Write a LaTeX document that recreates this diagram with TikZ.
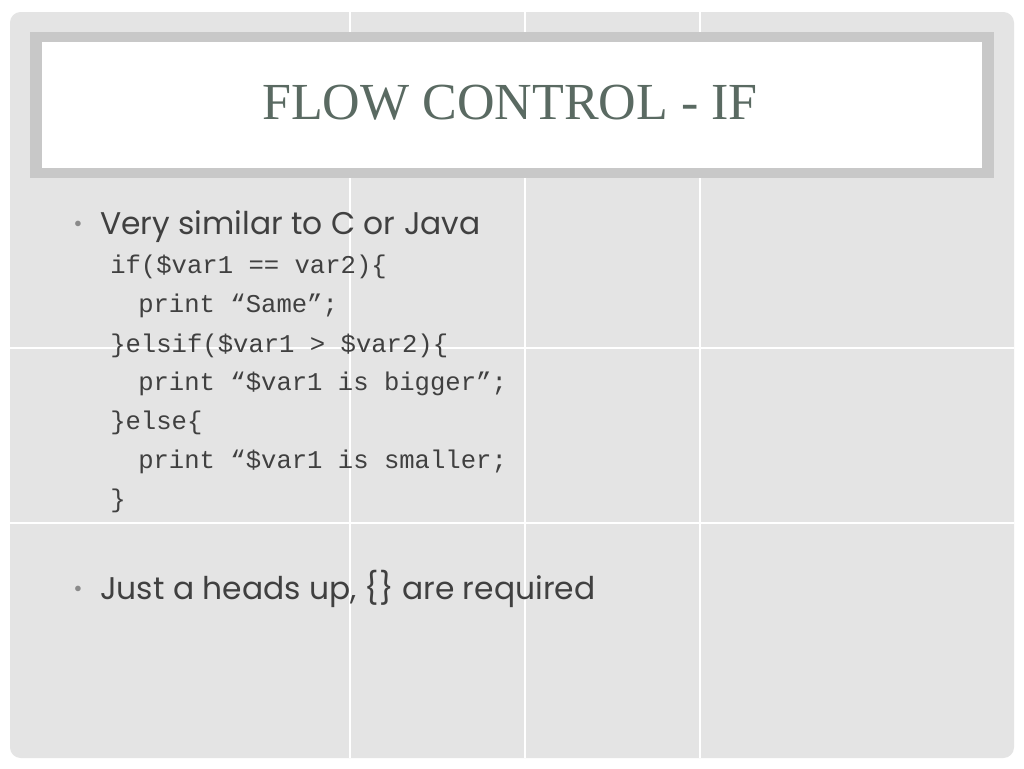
\documentclass[tikz,border=0pt]{standalone}
\usepackage{fontspec}
\setmainfont{Liberation Serif}
\setsansfont{Poppins}
\setmonofont{Liberation Mono}
\usetikzlibrary{positioning}
\definecolor{slidegrey}{HTML}{E4E4E4}
\definecolor{bandgrey}{HTML}{C8C8C8}
\definecolor{titlegreen}{HTML}{5A6A62}
\definecolor{textgrey}{HTML}{404040}
\definecolor{bulletgrey}{HTML}{8A8A8A}
\tikzset{
  bullettext/.style={anchor=base west, inner sep=0pt, text=textgrey, font=\sffamily\fontsize{23.5}{23.5}\selectfont},
  codeline/.style={anchor=base west, inner sep=0pt, text=textgrey, font=\ttfamily\fontsize{19.2}{19.2}\selectfont},
  dot/.style={anchor=base, inner sep=0pt, text=bulletgrey, font=\sffamily\fontsize{17}{17}\selectfont}
}
\begin{document}
\begin{tikzpicture}[x=0.75pt,y=-0.75pt]
  \useasboundingbox (0,0) rectangle (1024,768);
  \fill[white] (0,0) rectangle (1024,768);
  \fill[slidegrey, rounded corners=8pt] (10,12) rectangle (1014,758);
  % grid
  \foreach \gx in {350,525,700} \draw[white, line width=1pt] (\gx,12) -- (\gx,758);
  \foreach \gy in {348,523} \draw[white, line width=1pt] (10,\gy) -- (1014,\gy);
  % title band
  \fill[bandgrey] (30,32) rectangle (994,178);
  \fill[white] (42,42) rectangle (982,168);
  \node[text=titlegreen, font=\fontsize{39}{39}\selectfont, inner sep=0pt] (title) at (510,103) {FLOW CONTROL - IF};

  \node[dot] (b1) at (78,231) {•};
  \node[bullettext] (t1) at (100,234) {Very similar to C or Java};
  \node[codeline] (c1) at (110,273) {if(\$var1 == var2)\{};
  \node[codeline] (c2) at (138,312) {print “Same”;};
  \node[codeline] (c3) at (110,352) {\}elsif(\$var1 > \$var2)\{};
  \node[codeline] (c4) at (138,390) {print “\$var1 is bigger”;};
  \node[codeline] (c5) at (110,429) {\}else\{};
  \node[codeline] (c6) at (138,468) {print “\$var1 is smaller;};
  \node[codeline] (c7) at (110,507) {\}};
  \node[dot] (b2) at (78,596) {•};
  \node[bullettext] (t2) at (100,599) {Just a heads up, \{\} are required};
\end{tikzpicture}
\end{document}
